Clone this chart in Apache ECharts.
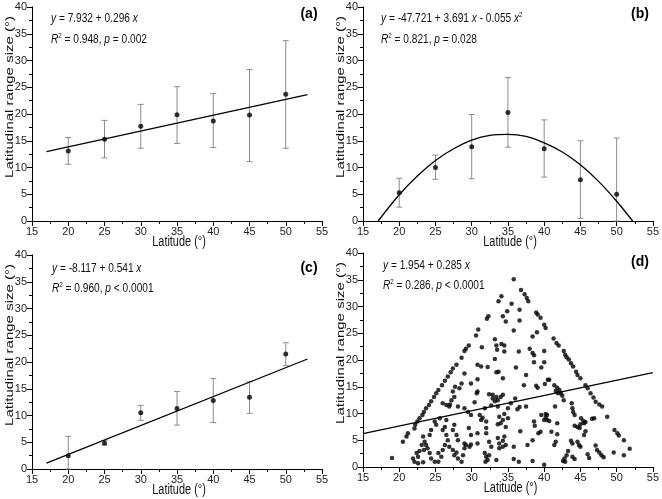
<!DOCTYPE html>
<html><head><meta charset="utf-8">
<script src="https://cdn.jsdelivr.net/npm/echarts@6/dist/echarts.min.js"></script>
<style>html,body{margin:0;padding:0;background:#fff}#c{width:662px;height:499px}</style>
</head><body><div id="c"></div>
<script>
// ---------- data ----------
const latitudes = [20, 25, 30, 35, 40, 45, 50];
const xTicks = [15, 20, 25, 30, 35, 40, 45, 50, 55];
const yTicks = [0, 5, 10, 15, 20, 25, 30, 35, 40];

// panel (a)
const meanA = [13.1, 15.3, 17.7, 19.85, 18.7, 19.8, 23.7];
const lowA  = [10.6, 11.8, 13.6, 14.5, 13.75, 11.1, 13.6];
const highA = [15.6, 18.8, 21.8, 25.1, 23.8, 28.3, 33.7];
const fitA  = [[17, 12.96], [53, 23.62]];

// panel (b)
const meanB = [5.3, 10.0, 13.9, 20.3, 13.5, 7.7, 5.0];
const lowB  = [2.6, 7.8, 7.9, 13.8, 8.2, 0.5, 0];
const highB = [8.0, 12.3, 19.9, 26.8, 18.9, 15.0, 15.5];
const fitB  = [[17.1, 0], [20, 4.9], [22.5, 8.4], [25, 11.3], [27.5, 13.5], [30, 15.1], [32.5, 16.0],
               [35, 16.2], [37.5, 15.8], [40, 14.6], [42.5, 12.9], [45, 10.5], [47.5, 7.4], [50, 3.7], [52.2, 0]];

// panel (c)
const meanC = [2.5, 4.8, 10.5, 11.3, 12.8, 13.4, 21.5];
const lowC  = [0, 4.5, 9.1, 8.2, 8.7, 10.4, 19.3];
const highC = [6.1, 5.3, 11.9, 14.5, 16.9, 16.3, 23.6];
const fitC  = [[17, 1.08], [53, 20.56]];

// panel (d)
const fitD = [[15, 6.23], [55, 17.63]];
const speciesD = [
[35.8,35.1],[36.8,33.1],[37.3,32.3],[37.6,31.6],[37.8,31.0],[34.1,31.9],[33.7,31.0],[35.5,30.5],[34.9,29.1],[36.6,29.4],
[38.9,28.9],[39.1,28.5],[39.5,27.9],[32.3,28.2],[32.1,27.7],[34.3,28.2],[34.7,27.2],[36.6,27.4],[40.0,26.6],[40.2,26.0],
[30.9,25.7],[35.8,25.5],[39.0,25.2],[38.4,24.4],[30.6,24.6],[33.2,23.9],[34.1,23.0],[34.5,22.7],[29.6,22.7],[29.2,22.1],
[31.4,22.4],[33.4,22.7],[33.5,21.9],[34.5,21.6],[36.5,21.6],[38.0,22.1],[38.4,21.3],[38.6,20.9],[40.0,21.7],[33.2,20.2],
[38.6,19.6],[40.0,19.6],[30.8,19.1],[31.3,18.8],[32.2,18.7],[36.1,18.6],[39.6,18.6],[28.6,20.4],[27.9,19.1],[29.0,21.7],
[41.3,24.0],[41.7,23.2],[42.0,22.7],[42.7,21.7],[42.9,21.0],[43.1,20.5],[43.4,20.1],[43.7,19.4],[44.0,18.8],
[27.4,18.4],[27.1,17.7],[26.7,16.9],[26.3,16.1],[25.9,15.3],[25.4,14.4],[25.1,13.8],[24.8,13.1],[24.4,12.3],[24.1,11.6],
[23.7,11.0],[23.4,10.3],[23.2,9.7],[22.8,9.1],[22.5,8.5],[22.2,7.9],[22.1,7.2],
[29.0,17.5],[28.6,15.6],[28.3,14.7],[27.7,15.0],[27.4,14.1],[27.6,13.1],[27.2,12.5],[27.0,11.7],[26.0,11.9],[26.5,11.6],
[26.9,11.3],[28.1,11.3],[29.0,11.0],[25.6,9.1],[24.9,8.5],[25.1,7.9],[26.5,8.8],[26.3,7.5],[26.0,6.9],[26.5,6.0],
[26.7,5.0],[27.6,7.9],[27.4,6.9],[27.9,6.0],[28.1,5.0],[24.4,6.9],[24.2,6.0],[21.2,6.3],[21.0,5.7],[20.5,4.7],
[23.3,5.7],[23.5,4.7],[23.1,4.1],[23.7,4.1],[23.9,3.5],[23.4,3.2],[22.8,3.0],[22.4,2.6],[22.6,1.9],[24.2,2.6],
[24.4,1.6],[24.9,1.0],[21.9,1.6],[22.1,1.0],[22.6,0.7],[23.3,0.9],[25.4,2.6],[25.8,1.9],[25.4,1.0],[26.9,3.8],
[27.4,3.2],[27.6,2.2],[28.1,1.6],[28.6,1.0],[29.0,3.5],[28.8,2.2],[27.9,2.7],[19.0,1.7],[26.3,4.1],[26.0,3.2],
[33.4,17.7],[33.7,17.8],[30.8,16.4],[29.9,15.6],[34.3,16.6],[37.5,17.2],[40.5,16.3],[37.2,15.3],[39.1,14.8],[38.9,15.2],
[30.7,13.8],[30.8,14.1],[32.4,13.6],[32.9,13.5],[33.4,13.1],[33.6,12.5],[33.2,12.3],[32.9,12.8],[34.0,13.1],[34.3,13.5],
[36.0,12.8],[30.4,12.1],[29.5,10.3],[29.9,9.7],[31.8,11.0],[31.1,9.7],[32.7,11.5],[33.6,11.3],[35.0,11.0],[35.4,11.9],
[36.3,10.8],[36.6,11.2],[37.5,11.3],[39.6,9.7],[40.2,9.2],[40.4,9.7],[40.0,8.8],[38.6,8.5],[38.7,7.7],[31.5,9.2],
[31.3,8.8],[32.0,8.5],[33.8,9.4],[34.5,9.9],[35.0,9.1],[34.3,8.8],[34.0,8.2],[33.6,8.0],[34.7,7.5],[29.6,7.3],
[32.0,7.3],[30.8,6.3],[29.9,6.0],[32.0,6.3],[36.7,6.7],[39.5,6.6],[39.2,6.3],[32.4,4.7],[32.7,3.8],[33.6,5.4],
[33.8,4.4],[34.3,4.9],[34.5,5.7],[34.7,4.1],[34.3,3.8],[33.8,3.5],[29.0,4.4],[29.2,4.1],[29.7,3.8],[29.9,4.2],
[30.8,4.4],[35.8,3.8],[37.7,4.1],[38.4,5.0],[31.8,2.6],[32.0,1.9],[32.2,1.3],[31.9,1.0],[32.4,2.2],[33.4,1.3],
[35.8,1.5],[36.5,1.0],[38.4,1.1],[40.0,0.4],
[44.4,17.8],[44.6,17.2],[45.0,16.6],[40.7,16.3],[40.1,15.5],[41.4,15.3],[41.8,14.8],[42.1,14.4],[42.3,13.8],[42.5,13.3],
[41.9,13.8],[41.6,14.2],[42.7,12.5],[45.7,15.3],[46.0,14.7],[46.4,13.8],[46.8,13.0],[47.1,12.2],[47.6,11.7],[48.0,11.3],
[48.7,9.4],[41.5,11.3],[43.8,11.9],[43.9,11.0],[44.0,10.3],[44.2,9.7],[40.2,9.9],[40.4,8.8],[40.7,8.6],[41.8,8.2],
[41.0,6.6],[41.8,6.1],[45.1,9.1],[45.4,8.6],[45.5,8.2],[45.0,8.0],[45.7,8.4],[44.9,7.3],[44.6,7.5],[44.2,7.7],
[46.6,9.0],[46.9,9.1],[45.7,6.7],[45.5,6.0],[49.7,6.9],[50.1,6.3],[50.3,5.9],[51.0,5.0],[41.6,4.7],[41.4,4.1],
[43.7,4.9],[43.9,4.4],[44.6,4.7],[44.8,4.1],[45.0,3.8],[47.1,4.0],[47.3,3.2],[47.6,2.7],[47.9,2.2],[48.2,1.8],
[49.6,2.7],[51.0,2.2],[51.8,3.4],[43.3,3.0],[43.1,2.2],[42.8,1.6],[42.6,1.1],[42.9,1.0],[43.9,1.9],[44.2,1.5],
[46.0,2.4],[46.2,1.7]
];

const eqTexts = [
  ['{i|y} = 7.932 + 0.296 {i|x}', '{i|R}{s|2} = 0.948, {i|p} = 0.002'],
  ['{i|y} = -47.721 + 3.691 {i|x} - 0.055 {i|x}{s|2}', '{i|R}{s|2} = 0.821, {i|p} = 0.028'],
  ['{i|y} = -8.117 + 0.541 {i|x}', '{i|R}{s|2} = 0.960, {i|p} < 0.0001'],
  ['{i|y} = 1.954 + 0.285 {i|x}', '{i|R}{s|2} = 0.286, {i|p} < 0.0001']
];
const panelLabels = ['(a)', '(b)', '(c)', '(d)'];

// ---------- layout ----------
const FONT = '"Liberation Sans", Arial, sans-serif';
const SQ = 0.78; // horizontal squeeze of the reference typography
const grids = [
  {left: 32, top: 7, width: 290, height: 214},
  {left: 363, top: 7, width: 290, height: 214},
  {left: 32, top: 255, width: 290, height: 214},
  {left: 363, top: 253, width: 291, height: 214}
];

function axisCommon() {
  return {
    axisLine: {show: true, onZero: false, lineStyle: {color: '#000', width: 1}},
    axisTick: {show: true, inside: false, length: 5, lineStyle: {color: '#000'}},
    minorTick: {show: true, splitNumber: 2, length: 3, lineStyle: {color: '#000'}},
    splitLine: {show: false},
    axisLabel: {fontSize: 11, color: '#222', fontFamily: FONT, margin: 5}
  };
}
const xAxes = grids.map((g, i) => Object.assign(axisCommon(), {type: 'value', gridIndex: i, min: xTicks[0], max: xTicks[xTicks.length-1], interval: 5}));
const yAxes = grids.map((g, i) => Object.assign(axisCommon(), {type: 'value', gridIndex: i, min: yTicks[0], max: yTicks[yTicks.length-1], interval: 5}));

function errRender(params, api) {
  const x = api.value(0), lo = api.value(1), hi = api.value(2);
  const p1 = api.coord([x, lo]), p2 = api.coord([x, hi]);
  const w = 3;
  const st = {stroke: '#8c8c8c', lineWidth: 1};
  return {type: 'group', children: [
    {type: 'line', shape: {x1: p1[0], y1: p1[1], x2: p2[0], y2: p2[1]}, style: st},
    {type: 'line', shape: {x1: p1[0]-w, y1: p1[1], x2: p1[0]+w, y2: p1[1]}, style: st},
    {type: 'line', shape: {x1: p2[0]-w, y1: p2[1], x2: p2[0]+w, y2: p2[1]}, style: st}
  ]};
}

const series = [];
const panels = [[meanA, lowA, highA, fitA, false], [meanB, lowB, highB, fitB, true], [meanC, lowC, highC, fitC, false]];
panels.forEach((p, i) => {
  series.push({type: 'custom', xAxisIndex: i, yAxisIndex: i, renderItem: errRender,
    data: latitudes.map((x, k) => [x, p[1][k], p[2][k]]), z: 2, clip: false});
  series.push({type: 'line', xAxisIndex: i, yAxisIndex: i, data: p[3], smooth: p[4] ? 0.4 : false,
    showSymbol: false, lineStyle: {color: '#000', width: 1.3}, z: 3});
  series.push({type: 'scatter', xAxisIndex: i, yAxisIndex: i, data: latitudes.map((x, k) => [x, p[0][k]]),
    symbolSize: 5, itemStyle: {color: '#000'}, z: 4});
});
series.push({type: 'scatter', xAxisIndex: 3, yAxisIndex: 3, data: speciesD, symbolSize: 4.5, itemStyle: {color: '#000'}, z: 4});
series.push({type: 'line', xAxisIndex: 3, yAxisIndex: 3, data: fitD, showSymbol: false, lineStyle: {color: '#000', width: 1.3}, z: 3});

// texts
const graphic = [];
const rich = {
  n: {fontSize: 13, fontFamily: FONT, color: '#111'},
  i: {fontStyle: 'italic', fontSize: 13, fontFamily: FONT, color: '#111'},
  s: {fontSize: 8, fontFamily: FONT, color: '#111', padding: [0, 0, 7, 0]}
};
const eqPos = [[51, 18, 39], [381, 18, 39], [52, 268, 288], [383, 265, 285]];
const labPos = [[309, 14], [640, 14], [309, 268], [640, 262]];
const yNameCenter = [97, 97, 345, 343];
grids.forEach((g, i) => {
  [1, 2].forEach(r => {
    graphic.push({type: 'text', x: eqPos[i][0], y: eqPos[i][r], scaleX: SQ,
      style: {text: eqTexts[i][r-1], rich, fontSize: 13, fontFamily: FONT, fill: '#111', align: 'left', verticalAlign: 'middle'}});
  });
  graphic.push({type: 'text', x: labPos[i][0], y: labPos[i][1], style: {text: panelLabels[i], fontSize: 14, fontWeight: 'bold', fontFamily: FONT, fill: '#000', align: 'center', verticalAlign: 'middle'}});
  // x-axis name
  graphic.push({type: 'text', x: g.left + g.width/2 + 2, y: g.top + g.height + 21, scaleX: SQ,
    style: {text: 'Latitude (°)', fontSize: 14, fontFamily: FONT, fill: '#111', align: 'center', verticalAlign: 'middle'}});
  // y-axis name
  graphic.push({type: 'text', x: g.left - 22, y: yNameCenter[i], rotation: Math.PI/2, scaleY: SQ,
    style: {text: 'Latitudinal range size (°)', fontSize: 15, fontFamily: FONT, fill: '#111', align: 'center', verticalAlign: 'middle'}});
});

const chart = echarts.init(document.getElementById('c'), null, {renderer: 'canvas'});
chart.setOption({
  animation: false,
  backgroundColor: '#fff',
  grid: grids,
  xAxis: xAxes,
  yAxis: yAxes,
  series: series,
  graphic: graphic
});
</script></body></html>
